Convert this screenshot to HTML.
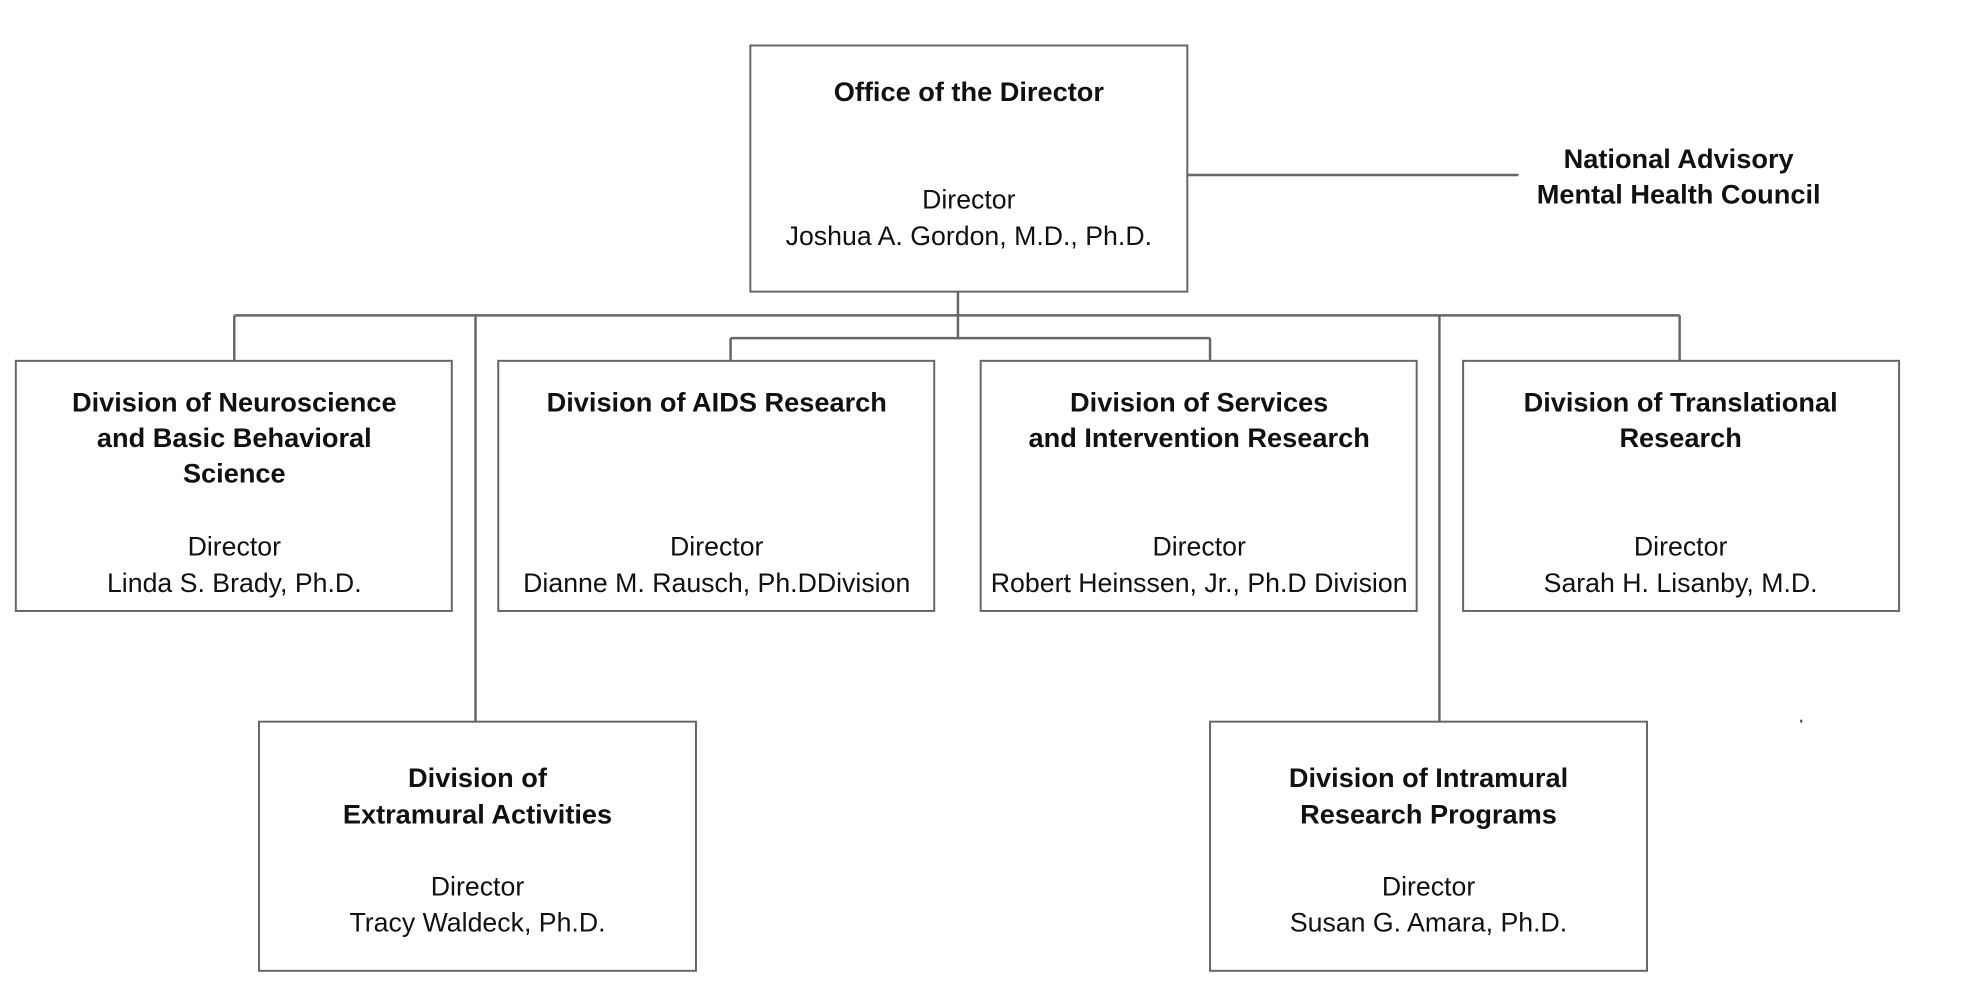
<!DOCTYPE html>
<html><head><meta charset="utf-8"><style>
html,body{margin:0;padding:0;background:#fff;}
svg{display:block;}
text{font-family:"Liberation Sans",sans-serif;fill:#111;text-anchor:middle;}
.b{font-weight:bold;font-size:27.5px;}
.r{font-size:27px;}
</style></head><body>
<svg width="1964" height="998" viewBox="0 0 1964 998">
<g transform="scale(0.9886)">
<g fill="#fff" stroke="#666" stroke-width="2">
<rect x="759" y="46" width="442" height="249"/>
<rect x="16" y="365" width="441" height="253"/>
<rect x="504" y="365" width="441" height="253"/>
<rect x="992" y="365" width="441" height="253"/>
<rect x="1480" y="365" width="441" height="253"/>
<rect x="262" y="730" width="442" height="252"/>
<rect x="1224" y="730" width="442" height="252"/>
</g>
<g stroke="#666" stroke-width="2.5" fill="none">
<line x1="1201" y1="177" x2="1536" y2="177"/>
<line x1="237" y1="319" x2="1699" y2="319"/>
<line x1="969" y1="295" x2="969" y2="342"/>
<line x1="739" y1="342" x2="1224" y2="342"/>
<line x1="237" y1="319" x2="237" y2="365"/>
<line x1="739" y1="342" x2="739" y2="365"/>
<line x1="1224" y1="342" x2="1224" y2="365"/>
<line x1="1699" y1="319" x2="1699" y2="365"/>
<line x1="481" y1="319" x2="481" y2="730"/>
<line x1="1456" y1="319" x2="1456" y2="730"/>
</g>
<text class="b" x="980" y="102">Office of the Director</text>
<text class="r" x="980" y="211">Director</text>
<text class="r" x="980" y="248">Joshua A. Gordon, M.D., Ph.D.</text>
<text class="b" x="1698" y="170">National Advisory</text>
<text class="b" x="1698" y="206">Mental Health Council</text>

<text class="b" x="237" y="416">Division of Neuroscience</text>
<text class="b" x="237" y="452">and Basic Behavioral</text>
<text class="b" x="237" y="488">Science</text>
<text class="r" x="237" y="562">Director</text>
<text class="r" x="237" y="599">Linda S. Brady, Ph.D.</text>

<text class="b" x="725" y="416">Division of AIDS Research</text>
<text class="r" x="725" y="562">Director</text>
<text class="r" x="725" y="599">Dianne M. Rausch, Ph.DDivision</text>

<text class="b" x="1213" y="416">Division of Services</text>
<text class="b" x="1213" y="452">and Intervention Research</text>
<text class="r" x="1213" y="562">Director</text>
<text class="r" x="1213" y="599">Robert Heinssen, Jr., Ph.D Division</text>

<text class="b" x="1700" y="416">Division of Translational</text>
<text class="b" x="1700" y="452">Research</text>
<text class="r" x="1700" y="562">Director</text>
<text class="r" x="1700" y="599">Sarah H. Lisanby, M.D.</text>

<text class="b" x="483" y="796">Division of</text>
<text class="b" x="483" y="833">Extramural Activities</text>
<text class="r" x="483" y="906">Director</text>
<text class="r" x="483" y="942">Tracy Waldeck, Ph.D.</text>

<text class="b" x="1445" y="796">Division of Intramural</text>
<text class="b" x="1445" y="833">Research Programs</text>
<text class="r" x="1445" y="906">Director</text>
<text class="r" x="1445" y="942">Susan G. Amara, Ph.D.</text>
<rect x="1821" y="728" width="2" height="3" fill="#444"/>
</g>
</svg>
</body></html>
